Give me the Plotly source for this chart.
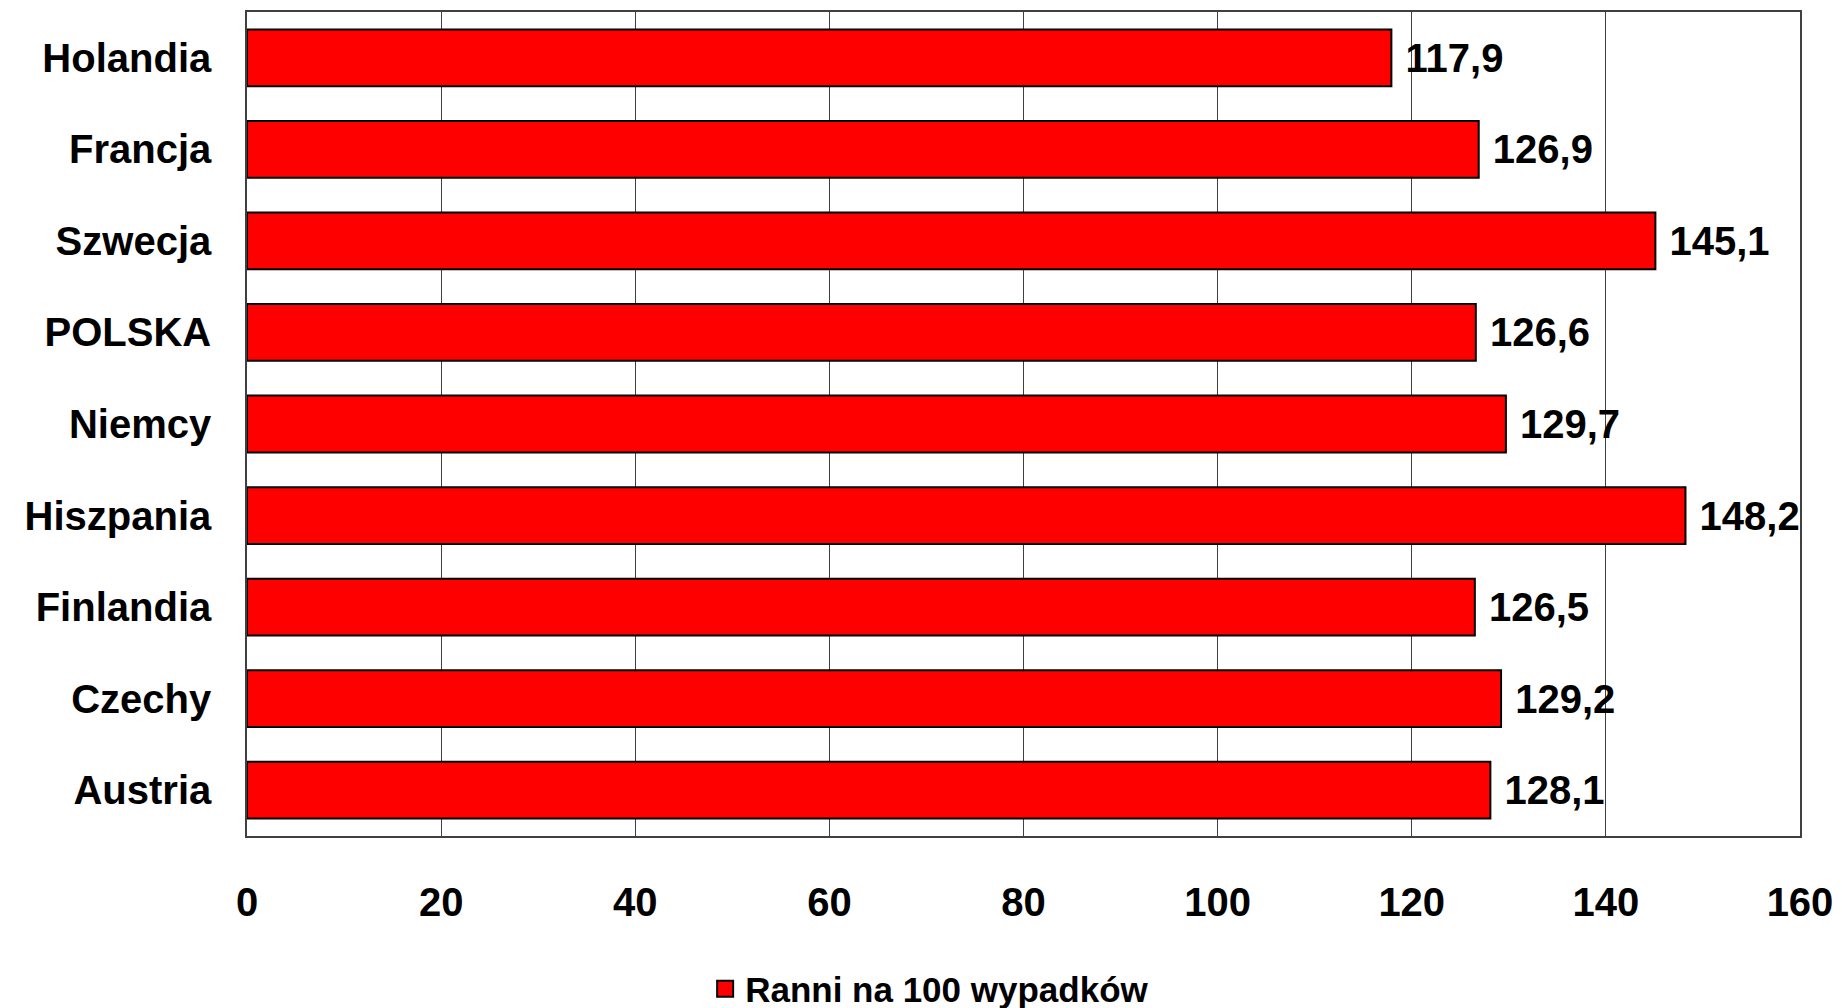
import plotly.graph_objects as go

countries = ["Holandia", "Francja", "Szwecja", "POLSKA", "Niemcy",
             "Hiszpania", "Finlandia", "Czechy", "Austria"]
values = [117.9, 126.9, 145.1, 126.6, 129.7, 148.2, 126.5, 129.2, 128.1]
series_name = "Ranni na 100 wypadków"
tick_vals = [0, 20, 40, 60, 80, 100, 120, 140, 160]

FONT = "Liberation Sans, Arial, sans-serif"

fig = go.Figure()
fig.add_trace(go.Bar(
    y=countries, x=values, orientation="h", name=series_name,
    marker=dict(color="#ff0000", line=dict(color="#000000", width=2)),
    width=0.62,
    texttemplate=" %{x:.1f}", textposition="outside",
    textfont=dict(family=FONT, size=40, color="#000000"),
    cliponaxis=False, showlegend=False,
))
# legend entry with a larger square swatch
fig.add_trace(go.Scatter(
    x=[None], y=[None], mode="markers", name=series_name,
    marker=dict(symbol="square", size=17, color="#ff0000",
                line=dict(color="#000000", width=2)),
    showlegend=True,
))

# page body has an 8px default margin, so the figure is sized 8px smaller
fig.update_layout(
    width=1834, height=1000,
    margin=dict(l=239, r=42, t=4, b=172, autoexpand=False),
    paper_bgcolor="white", plot_bgcolor="white",
    separators=", ",
    font=dict(family=FONT, size=40, color="#000000", weight="bold"),
    showlegend=True,
    legend=dict(orientation="h", x=0.295, xanchor="left", y=-0.2215, yanchor="bottom",
                font=dict(family=FONT, size=35, color="#000000", weight="bold"),
                bgcolor="rgba(0,0,0,0)", itemwidth=30, borderwidth=0),
    bargap=0.38,
)
fig.update_xaxes(
    range=[0, 160], tickvals=tick_vals, ticktext=[str(v) for v in tick_vals],
    showgrid=True, gridcolor="#404040", gridwidth=1,
    showline=True, linecolor="#404040", linewidth=1.5, mirror=True,
    zeroline=False, ticks="", ticklabelstandoff=30, automargin=False,
    tickfont=dict(family=FONT, size=40, color="#000000", weight="bold"),
)
fig.update_yaxes(
    autorange="reversed", showgrid=False,
    showline=True, linecolor="#404040", linewidth=1.5, mirror=True,
    ticks="", ticklabelstandoff=26, automargin=False,
    tickfont=dict(family=FONT, size=40, color="#000000", weight="bold"),
)

fig.write_html("out.html")
